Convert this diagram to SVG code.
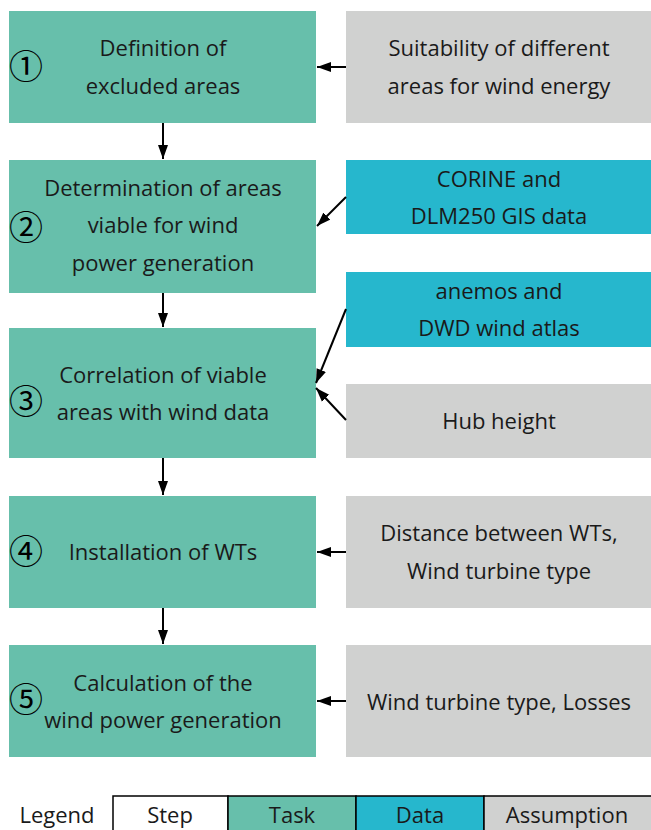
<svg xmlns="http://www.w3.org/2000/svg" width="651" height="830" viewBox="0 0 651 830">
<defs>
<style>
.task{fill:#67bfab}
.data{fill:#26b7cd}
.asm{fill:#d0d1d0}
text{font-family:"Open Sans","Liberation Sans",Arial,sans-serif;font-size:22px;fill:#1a1a1a;text-anchor:middle}
.num{font-family:"Noto Sans CJK JP","DejaVu Sans",sans-serif;font-size:34px;fill:#000}
.conn{stroke:#000;stroke-width:2;fill:none;marker-end:url(#ah)}
.leg{stroke:#000;stroke-width:1.5}
</style>
<marker id="ah" viewBox="0 0 14 10" refX="14" refY="5" markerWidth="7" markerHeight="5.5" markerUnits="strokeWidth" orient="auto">
<path d="M0,0 L14,5 L0,10 z" fill="#000"/>
</marker>
</defs>
<rect width="651" height="830" fill="#fff"/>

<g id="task1"><rect class="task" x="9" y="11" width="307" height="112"/>
<text class="num" x="26" y="79">①</text>
<text x="163" y="56">Definition of</text><text x="163" y="94">excluded areas</text></g>
<g id="asm1"><rect class="asm" x="346" y="11" width="305" height="112"/>
<text x="499" y="56">Suitability of different</text><text x="499" y="94">areas for wind energy</text></g>

<g id="task2"><rect class="task" x="9" y="160" width="307" height="133"/>
<text class="num" x="26" y="240">②</text>
<text x="163" y="196">Determination of areas</text><text x="163" y="233">viable for wind</text><text x="163" y="271">power generation</text></g>
<g id="data1"><rect class="data" x="346" y="160" width="305" height="74"/>
<text x="499" y="187">CORINE and</text><text x="499" y="224">DLM250 GIS data</text></g>

<g id="data2"><rect class="data" x="346" y="272" width="305" height="75"/>
<text x="499" y="299">anemos and</text><text x="499" y="336">DWD wind atlas</text></g>

<g id="task3"><rect class="task" x="9" y="328" width="307" height="130"/>
<text class="num" x="26" y="414">③</text>
<text x="163" y="383">Correlation of viable</text><text x="163" y="420">areas with wind data</text></g>
<g id="asm2"><rect class="asm" x="346" y="384" width="305" height="74"/>
<text x="499" y="429">Hub height</text></g>

<g id="task4"><rect class="task" x="9" y="496" width="307" height="112"/>
<text class="num" x="26" y="564">④</text>
<text x="163" y="560">Installation of WTs</text></g>
<g id="asm3"><rect class="asm" x="346" y="496" width="305" height="112"/>
<text x="499" y="541">Distance between WTs,</text><text x="499" y="579">Wind turbine type</text></g>

<g id="task5"><rect class="task" x="9" y="645" width="307" height="112"/>
<text class="num" x="26" y="712">⑤</text>
<text x="163" y="691">Calculation of the</text><text x="163" y="728">wind power generation</text></g>
<g id="asm4"><rect class="asm" x="346" y="645" width="305" height="112"/>
<text x="499" y="710">Wind turbine type, Losses</text></g>

<g id="connectors">
<line class="conn" x1="163" y1="123" x2="163" y2="159"/>
<line class="conn" x1="163" y1="293" x2="163" y2="327"/>
<line class="conn" x1="163" y1="458" x2="163" y2="495"/>
<line class="conn" x1="163" y1="608" x2="163" y2="644"/>
<line class="conn" x1="346" y1="67" x2="317" y2="67"/>
<line class="conn" x1="346" y1="197" x2="317" y2="226"/>
<line class="conn" x1="346" y1="309" x2="316" y2="383"/>
<line class="conn" x1="346" y1="420" x2="316" y2="388"/>
<line class="conn" x1="346" y1="552" x2="317" y2="552"/>
<line class="conn" x1="346" y1="701" x2="317" y2="701"/>
</g>

<g id="legend">
<text x="57" y="823">Legend</text>
<rect class="leg" x="113" y="796" width="115" height="40" fill="#fff"/>
<rect class="leg task" x="228" y="796" width="128" height="40"/>
<rect class="leg data" x="356" y="796" width="128" height="40"/>
<rect class="leg asm" x="484" y="796" width="170" height="40"/>
<text x="170" y="823">Step</text>
<text x="292" y="823">Task</text>
<text x="420" y="823">Data</text>
<text x="567" y="823">Assumption</text>
</g>
</svg>
